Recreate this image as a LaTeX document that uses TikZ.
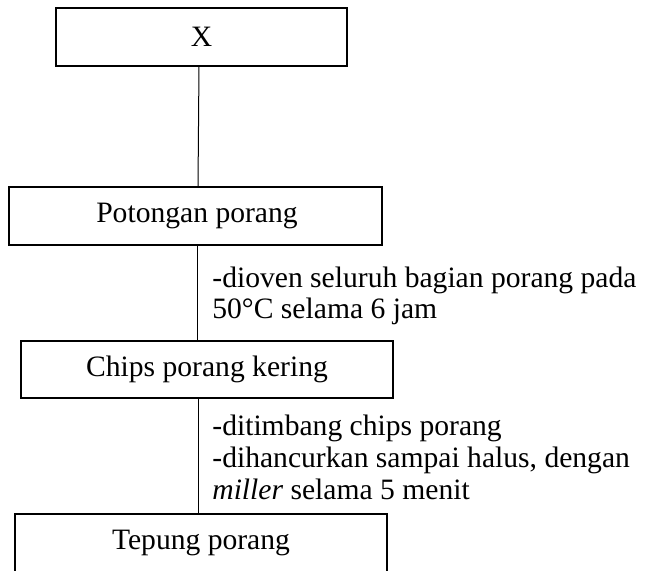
\documentclass[tikz,border=0pt]{standalone}
\usepackage{fontspec}
\setmainfont{Liberation Serif}
\begin{document}
\begin{tikzpicture}[x=0.5pt,y=-0.5pt,
  boxstyle/.style={draw,line width=0.8pt,rectangle,inner sep=0pt},
  linkstyle/.style={line width=0.5pt},
  notestyle/.style={anchor=base west,inner sep=0pt}]
\useasboundingbox (0,0) rectangle (645,570);
\clip (0,0) rectangle (645,570);
\fontsize{14.8}{15.8}\selectfont
% boxes
\draw[line width=0.8pt] (56,8) rectangle (347,66);
\node[inner sep=0pt] (x) at (201.5,37) {X};
\coordinate (xs) at (199,66);
\draw[line width=0.8pt] (9,187) rectangle (382,245);
\node[inner sep=0pt] (pot) at (197,216) {Potongan porang};
\coordinate (pn) at (198,187);
\coordinate (ps) at (198,245);
\draw[line width=0.8pt] (21,341) rectangle (393,398);
\node[inner sep=0pt] (chips) at (207,369.5) {Chips porang kering};
\coordinate (cn) at (198,341);
\coordinate (cs) at (198.5,398);
\draw[line width=0.8pt] (15,514) rectangle (387,572);
\node[inner sep=0pt] (tep) at (201,543) {Tepung porang};
\coordinate (tn) at (198.5,514);
% connectors
\draw[linkstyle] (xs) -- (pn);
\draw[linkstyle] (ps) -- (cn);
\draw[linkstyle] (cs) -- (tn);
% notes
\node[notestyle] (n1) at (212,287) {-dioven seluruh bagian porang pada};
\node[notestyle] (n2) at (212,318) {50°C selama 6 jam};
\node[notestyle] (n3) at (212,435) {-ditimbang chips porang};
\node[notestyle] (n4) at (212,467) {-dihancurkan sampai halus, dengan};
\node[notestyle] (n5) at (212,499) {\textit{miller} selama 5 menit};
\end{tikzpicture}
\end{document}
